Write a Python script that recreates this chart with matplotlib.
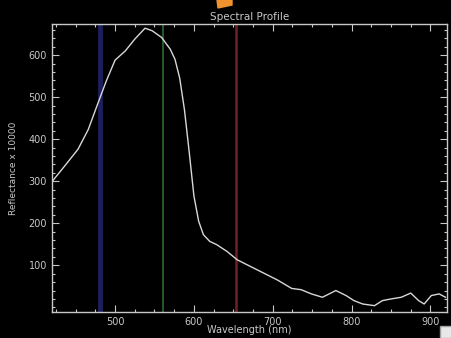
import matplotlib
matplotlib.use("Agg")
import matplotlib.pyplot as plt
from matplotlib.patches import Polygon, Rectangle
from matplotlib.ticker import MultipleLocator

# spectrum
wavelength = [420, 436, 453, 466, 477, 489, 500, 513, 525, 538, 547, 559, 570,
              576, 582, 588, 594, 600, 606, 612, 620, 629, 642, 655, 672, 689,
              706, 724, 736, 749, 763, 780, 793, 803, 814, 829, 839, 850, 863,
              875, 885, 892, 901, 911, 919]
reflect = [299, 336, 376, 423, 479, 539, 588, 610, 638, 664, 658, 642, 614,
           590, 545, 470, 370, 265, 205, 173, 157, 149, 133, 113, 97, 81,
           65, 45, 42, 32, 24, 40, 28, 16, 8, 4, 16, 20, 24,
           34, 16, 8, 28, 32, 24]

band_pos = [481, 561, 653]
band_col = ["#1e1e5c", "#2a6a2e", "#761f1f"]
band_lw = [3.5, 1.2, 1.8]

fg = "#c8c8c8"
fig = plt.figure(figsize=(4.52, 3.38), dpi=100, facecolor="black")
ax = fig.add_axes([0.115, 0.077, 0.874, 0.852], facecolor="black")

for x, c, w in zip(band_pos, band_col, band_lw):
    ax.axvline(x, color=c, lw=w)
ax.plot(wavelength, reflect, color="#d8d8d8", lw=1.0)

ax.set_xlim(420, 921)
ax.set_ylim(-11, 674)
ax.xaxis.set_major_locator(MultipleLocator(100))
ax.xaxis.set_minor_locator(MultipleLocator(25))
ax.yaxis.set_major_locator(MultipleLocator(100))
ax.yaxis.set_minor_locator(MultipleLocator(20))
ax.set_yticks([100, 200, 300, 400, 500, 600])
ax.tick_params(which="both", direction="in", colors=fg, top=True, right=True,
               labelsize=7, width=0.8)
ax.tick_params(which="major", length=5)
ax.tick_params(which="minor", length=2.5)
for s in ax.spines.values():
    s.set_color(fg)
    s.set_linewidth(1.0)

ax.set_title("Spectral Profile", color=fg, fontsize=7.5, pad=3)
ax.set_xlabel("Wavelength (nm)", color=fg, fontsize=7, labelpad=-1)
ax.set_ylabel("Reflectance x 10000", color=fg, fontsize=6.5, labelpad=8)

# stray marks in the picture
fig.patches.append(Polygon([[217 / 452, 1], [232 / 452, 1], [232 / 452, 1 - 5 / 338],
                            [218 / 452, 1 - 8 / 338]], closed=True,
                           transform=fig.transFigure, color="#f0922e"))
fig.patches.append(Rectangle((440 / 452, 0), 12 / 452, 12 / 338,
                             transform=fig.transFigure, facecolor="#e8e8e8",
                             edgecolor="#a0a0a0"))

fig.savefig("out.png", dpi=100, facecolor="black")
